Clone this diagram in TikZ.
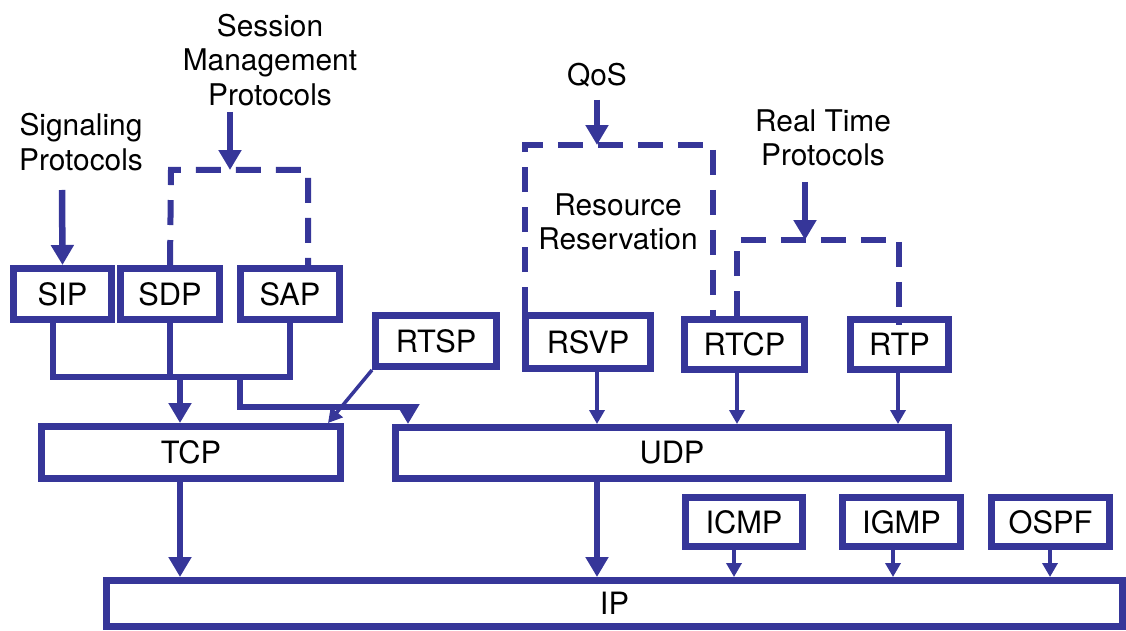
\documentclass[tikz,border=0pt]{standalone}
\usepackage{fontspec}
\setmainfont{TeX Gyre Heros}
\usetikzlibrary{arrows.meta}
\definecolor{protoblue}{RGB}{54,54,153}

\begin{document}
\begin{tikzpicture}[x=0.02cm, y=-0.02cm,
  proto/.style={rectangle, draw=protoblue, line width=0.14cm, fill=white, inner sep=0pt, font=\fontsize{17.5}{20}\selectfont},
  group/.style={align=center, inner sep=0pt, font=\fontsize{17}{19.5}\selectfont},
  bus/.style={draw=protoblue, line width=0.13cm},
  bigarrow/.style={bus, -{Triangle[width=0.44cm,length=0.4cm]}},
  smallarrow/.style={draw=protoblue, line width=0.07cm, -{Triangle[width=0.3cm,length=0.28cm]}},
  bracket/.style={draw=protoblue, line width=0.12cm, dash pattern=on 0.5cm off 0.3cm}]

\useasboundingbox (0,0) rectangle (1126,631);

%% ETIQUETAS
\node[group] at (81,142) (sigLbl) {Signaling\\Protocols};
\node[group] at (270,60) (sessLbl) {Session\\Management\\Protocols};
\node[group] at (597,75) (qosLbl) {QoS};
\node[group] at (618,222) (resLbl) {Resource\\Reservation};
\node[group] at (823,138) (rtLbl) {Real Time\\Protocols};

%% CAPA APLICACION
\node[proto, minimum width=1.96cm, minimum height=1.02cm] at (62.5,294) (SIP) {SIP};
\node[proto, minimum width=1.98cm, minimum height=1.02cm] at (170,294) (SDP) {SDP};
\node[proto, minimum width=1.98cm, minimum height=1.02cm] at (290,294) (SAP) {SAP};
\node[proto, minimum width=2.42cm, minimum height=1.02cm] at (436,341) (RTSP) {RTSP};
\node[proto, minimum width=2.50cm, minimum height=1.06cm] at (588,342) (RSVP) {RSVP};
\node[proto, minimum width=2.40cm, minimum height=1.00cm] at (744.5,344.5) (RTCP) {RTCP};
\node[proto, minimum width=1.96cm, minimum height=1.00cm] at (899.5,344.5) (RTP) {RTP};

%% TRANSPORTE
\node[proto, minimum width=5.98cm, minimum height=1.04cm] at (191,452.5) (TCP) {TCP};
\node[proto, minimum width=11.06cm, minimum height=1.02cm] at (672,453) (UDP) {UDP};

%% RED
\node[proto, minimum width=2.34cm, minimum height=0.98cm] at (744,522) (ICMP) {ICMP};
\node[proto, minimum width=2.36cm, minimum height=0.98cm] at (901.5,522) (IGMP) {IGMP};
\node[proto, minimum width=2.36cm, minimum height=0.98cm] at (1050.5,522) (OSPF) {OSPF};
\node[proto, minimum width=20.32cm, minimum height=0.92cm] at (614.5,603.5) (IP) {IP};

% Puntos de paso
\coordinate (sigIn) at (62,190);
\coordinate (smIn) at (230,112);
\coordinate (smL) at (171,170);
\coordinate (smR) at (308,170);
\coordinate (qosIn) at (597,100);
\coordinate (qosL) at (525,145);
\coordinate (qosR) at (713,145);
\coordinate (rtIn) at (805,182);
\coordinate (rtL) at (737,240);
\coordinate (rtR) at (899,240);
\coordinate (busL) at (53,377);
\coordinate (busR) at (290,377);
\coordinate (busA) at (180,377);
\coordinate (busB) at (240,377);
\coordinate (udpIn) at (408,407);
\coordinate (rtspIn) at (328,0);

% Grupos (discontinuos)
\draw[bracket] (SDP.north) -- (smL) -- (smR) -- (smR |- SAP.north);
\draw[bracket] (qosL |- RSVP.north) -- (qosL) -- (qosR) -- (qosR |- RTCP.north);
\draw[bracket] (rtL |- RTCP.north) -- (rtL) -- (rtR) -- ([yshift=-0.18cm]rtR |- RTP.north);

% Flechas de las etiquetas
\draw[bigarrow] (sigIn) -- (SIP.north);
\draw[bigarrow] (smIn) -- (smIn |- smL);
\draw[bigarrow] (qosIn) -- (qosIn |- qosL);
\draw[bigarrow] (rtIn) -- (rtIn |- rtL);

% Bus de senalizacion
\draw[bus] (SIP.south -| busL) -- (busL) -- (busR) -- (SAP.south);
\draw[bus] (SDP.south) -- (SDP.south |- busL);
\draw[bigarrow] (busA) -- (busA |- TCP.north);
\draw[bus] (busB) |- (udpIn);
\draw[bigarrow] (udpIn) -- (udpIn |- UDP.north);
\draw[smallarrow] (RTSP.south west) -- (rtspIn |- TCP.north);

% Hacia UDP
\foreach \n/\x in {RSVP/597, RTCP/737, RTP/898}
  \draw[smallarrow] (\n.south -| \x,0) -- (UDP.north -| \x,0);

% Hacia IP
\draw[bigarrow] (TCP.south -| 180,0) -- (IP.north -| 180,0);
\draw[bigarrow] (UDP.south -| 597,0) -- (IP.north -| 597,0);
\foreach \n/\x in {ICMP/734, IGMP/893, OSPF/1050}
  \draw[smallarrow] (\n.south -| \x,0) -- (IP.north -| \x,0);

\end{tikzpicture}
\end{document}
